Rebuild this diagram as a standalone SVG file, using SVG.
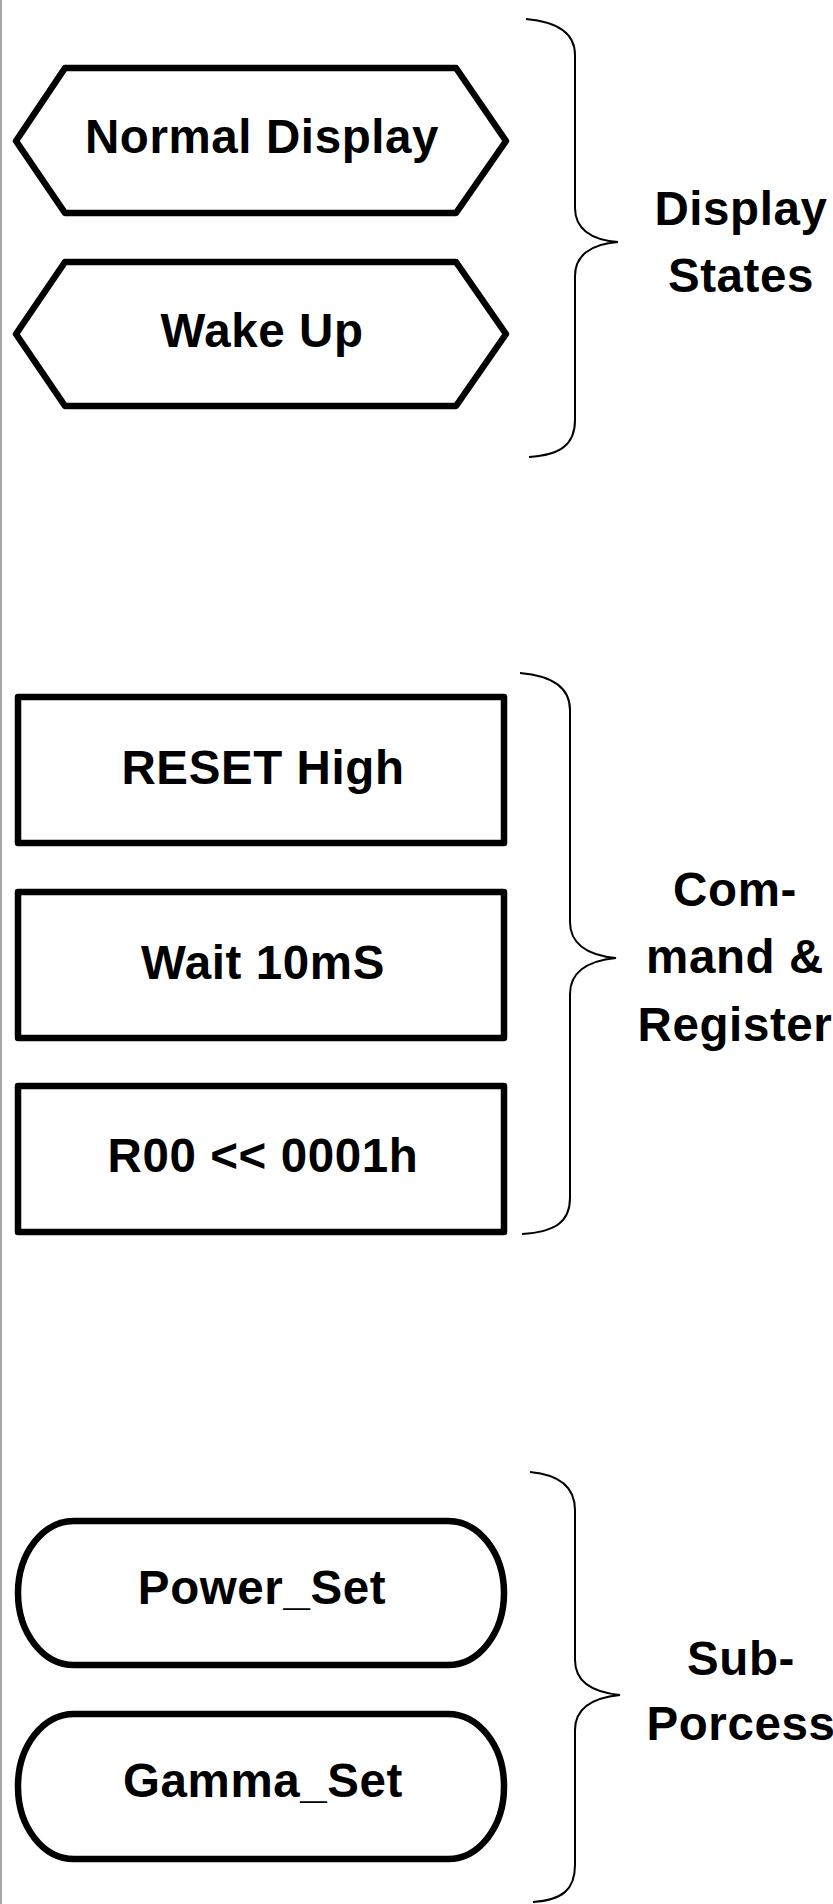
<svg xmlns="http://www.w3.org/2000/svg" width="833" height="1904" viewBox="0 0 833 1904">
<style>
.shape{fill:#fff;stroke:#000;stroke-width:6.5;stroke-linejoin:round}
.brace{fill:none;stroke:#000;stroke-width:2}
.t{font-family:"Liberation Sans",Arial,sans-serif;font-weight:bold;font-size:47.5px;letter-spacing:0.6px;fill:#000;text-anchor:middle}
</style>
<rect width="833" height="1904" fill="#fff"/>
<line x1="1" y1="0" x2="1" y2="1904" stroke="#888" stroke-width="1.5"/>
<g id="connectors">
<path class="brace" d="M526,19 C560,22 575,35 575,55 L575,208 C575,228 590,240 618,242 C590,244 575,256 575,276 L575,420 C575,445 560,455 529,457"/>
<path class="brace" d="M520,673 C555,676 570,690 570,710 L570,922 C570,942 585,955 616,958 C585,961 570,974 570,994 L570,1198 C570,1222 555,1232 522,1234"/>
<path class="brace" d="M530,1472 C563,1475 575,1490 575,1510 L575,1660 C575,1680 590,1692 620,1695 C590,1698 575,1710 575,1730 L575,1865 C575,1890 562,1900 533,1902"/>
</g>
<g id="normal-display">
<polygon class="shape" points="16,141 65,68 456,68 506,141 456,213 65,213"/>
<text class="t" x="262" y="153">Normal Display</text>
</g>
<g id="wake-up">
<polygon class="shape" points="16,334 65,262 456,262 506,334 456,406 65,406"/>
<text class="t" x="262" y="347">Wake Up</text>
</g>
<g id="label-display-states">
<text class="t" x="741" y="225">Display</text>
<text class="t" x="741" y="292">States</text>
</g>
<g id="reset-high">
<rect class="shape" x="18" y="697" width="486" height="146"/>
<text class="t" x="263" y="784">RESET High</text>
</g>
<g id="wait-10ms">
<rect class="shape" x="18" y="892" width="486" height="146"/>
<text class="t" x="263" y="979">Wait 10mS</text>
</g>
<g id="r00">
<rect class="shape" x="18" y="1086" width="486" height="146"/>
<text class="t" x="263" y="1172">R00 &lt;&lt; 0001h</text>
</g>
<g id="label-command-register">
<text class="t" x="735" y="906">Com-</text>
<text class="t" x="735" y="973">mand &amp;</text>
<text class="t" x="735" y="1041">Register</text>
</g>
<g id="power-set">
<rect class="shape" x="18" y="1521" width="486" height="144" rx="56" ry="72"/>
<text class="t" x="262" y="1604">Power_Set</text>
</g>
<g id="gamma-set">
<rect class="shape" x="18" y="1714" width="486" height="145" rx="56" ry="72"/>
<text class="t" x="263" y="1797">Gamma_Set</text>
</g>
<g id="label-sub-process">
<text class="t" x="741" y="1675">Sub-</text>
<text class="t" x="741" y="1740">Porcess</text>
</g>
</svg>
